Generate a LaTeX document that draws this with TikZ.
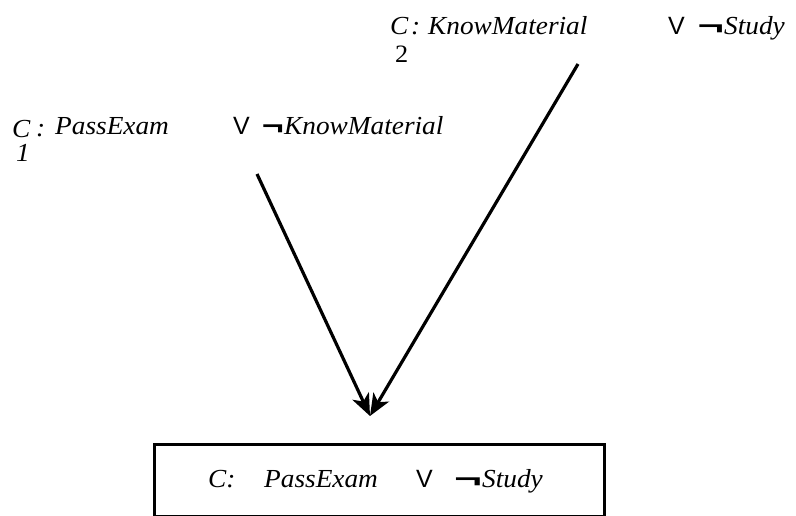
\documentclass[tikz,border=0pt]{standalone}
\usepackage{fontspec}
\usepackage{graphicx}
\setmainfont{Liberation Serif}[FakeStretch=1.05]
\newfontfamily\symfont{Liberation Sans}
\usetikzlibrary{arrows.meta}
\begin{document}
\begin{tikzpicture}[x=1pt,y=-1pt,
  word/.style={anchor=base west,inner sep=0pt,font=\fontsize{26}{30}\selectfont\itshape},
  sub/.style={anchor=base west,inner sep=0pt,font=\fontsize{25}{30}\selectfont},
  orsym/.style={anchor=base west,inner sep=0pt,font=\fontsize{25}{30}\symfont},
  negsym/.style={anchor=base east,inner sep=0pt,font=\fontsize{25}{30}\symfont\bfseries},
  resarrow/.style={line width=3.2pt,-{Stealth[length=22pt,width=18pt,inset=6pt]}},
  resbox/.style={draw,line width=3pt}]
\useasboundingbox (0,0) rectangle (796,516);
% clause C2
\node[word] (c2c) at (390,35) {C};
\node[sub] (c2n) at (395,63) {2};
\node[word] (c2k) at (411,35) {:};
\node[word] (c2a) at (428,35) {KnowMaterial};
\node[orsym] (c2or) at (668,35) {V};
\node[word] (c2b) at (724,35) {Study};
\node[negsym] (c2neg) at (c2b.base west) {\scalebox{1.8}[1]{¬}};
% clause C1
\node[word] (c1c) at (12,138) {C};
\node[word] (c1n) at (16,162) {1};
\node[word] (c1k) at (36,137) {:};
\node[word] (c1a) at (55,135) {PassExam};
\node[orsym] (c1or) at (233,135) {V};
\node[word] (c1b) at (284,135) {KnowMaterial};
\node[negsym] (c1neg) at (c1b.base west) {\scalebox{1.5}[1]{¬}};
% resolvent
\draw[resbox] (154.5,444.5) rectangle (604,516);
\node[word] (cc) at (208,487) {C:};
\node[word] (ca) at (264,487) {PassExam};
\node[orsym] (cor) at (416,487) {V};
\node[word] (cb) at (482,487) {Study};
\node[negsym] (cneg) at (cb.base west) {\scalebox{1.9}[1]{¬}};
% arrows
\coordinate (s1) at (257,174);
\coordinate (s2) at (578,64);
\coordinate (tip) at (370,416);
\draw[resarrow] (s1) -- (tip);
\draw[resarrow] (s2) -- (tip);
\end{tikzpicture}
\end{document}
